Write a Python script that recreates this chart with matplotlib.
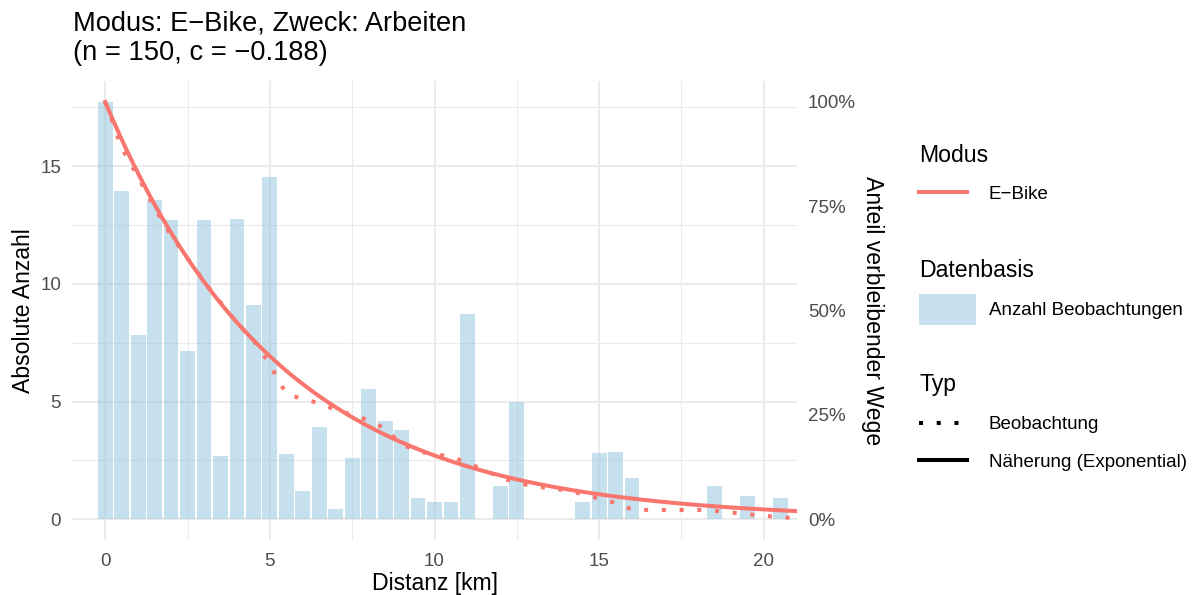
import numpy as np
import matplotlib
matplotlib.use("Agg")
import matplotlib.pyplot as plt
from matplotlib.lines import Line2D
from matplotlib.patches import Patch

plt.rcParams['font.family'] = ['Liberation Sans', 'DejaVu Sans']

# Balken: Anzahl Beobachtungen je 0,5-km-Klasse (gewichtet)
bin_km = [0, 0.5, 1, 1.5, 2, 2.5, 3, 3.5, 4, 4.5, 5, 5.5, 6, 6.5, 7, 7.5, 8,
          8.5, 9, 9.5, 10, 10.5, 11, 12, 12.5, 14.5, 15, 15.5, 16, 18.5, 19.5, 20.5]
counts = [17.73, 13.95, 7.84, 13.57, 12.72, 7.16, 12.72, 2.70, 12.76, 9.11, 14.55,
          2.75, 1.18, 3.93, 0.45, 2.58, 5.54, 4.19, 3.81, 0.92, 0.75, 0.71, 8.73,
          1.39, 4.99, 0.71, 2.83, 2.87, 1.77, 1.43, 1.00, 0.88]

# Beobachteter Anteil verbleibender Wege
obs_km = [0, 0.5, 1, 1.5, 2, 2.5, 3, 3.5, 4, 4.5, 5, 5.5, 6, 6.5, 7, 7.5, 8, 8.5,
          9, 9.5, 10, 10.5, 11, 11.5, 12, 12.5, 13, 13.5, 14, 14.5, 15, 15.5, 16,
          16.5, 17, 17.5, 18, 18.5, 19, 19.5, 20, 20.5, 21]
obs_share = [1.00, 0.89, 0.82, 0.745, 0.68, 0.625, 0.57, 0.52, 0.47, 0.43, 0.37,
             0.30, 0.288, 0.278, 0.262, 0.25, 0.237, 0.217, 0.18, 0.162, 0.156,
             0.150, 0.135, 0.118, 0.10, 0.087, 0.079, 0.074, 0.069, 0.060, 0.049,
             0.039, 0.023, 0.022, 0.022, 0.022, 0.022, 0.020, 0.016, 0.012, 0.008,
             0.005, 0.002]

n_obs = 150
c_exp = -0.188

red = '#F8766D'
bar_col = '#9ecae1'
grid_col = '#EBEBEB'
tick_col = '#4D4D4D'

scale = max(counts)  # 100 % auf der rechten Achse
fit_x = np.linspace(0, 21, 300)
fit_y = np.exp(c_exp * fit_x)

fig = plt.figure(figsize=(11.95, 5.95), dpi=100)
ax = fig.add_axes([0.0605, 0.0924, 0.6062, 0.7713])

ax.bar(bin_km, counts, width=0.45, color=bar_col, alpha=0.58, linewidth=0, zorder=2)
ax.plot(obs_km, np.array(obs_share) * scale, color=red, lw=2.9,
        linestyle=(0, (1, 3.4)), zorder=3)
ax.plot(fit_x, fit_y * scale, color=red, lw=2.9, zorder=4)

ax.set_xlim(-1, 21)
ax.set_ylim(-0.05 * scale, 1.05 * scale)
ax.set_xticks([0, 5, 10, 15, 20])
ax.set_xticks([2.5, 7.5, 12.5, 17.5], minor=True)
ax.set_yticks([0, 5, 10, 15])
ax.set_yticks([2.5, 7.5, 12.5, 17.5], minor=True)
ax.grid(True, which='major', color=grid_col, lw=1.5, zorder=0)
ax.grid(True, which='minor', color=grid_col, lw=0.8, zorder=0)
ax.set_axisbelow(True)
for s in ax.spines.values():
    s.set_visible(False)
ax.tick_params(which='both', length=0, labelsize=13.5, labelcolor=tick_col)
ax.tick_params(axis='x', pad=9)
ax.tick_params(axis='y', pad=8)
ax.set_xlabel('Distanz [km]', fontsize=16.6, labelpad=2)
ax.set_ylabel('Absolute Anzahl', fontsize=16.6, labelpad=4)

ax2 = ax.twinx()
ax2.set_ylim(-5, 105)
ax2.set_yticks([0, 25, 50, 75, 100])
ax2.set_yticklabels(['0%', '25%', '50%', '75%', '100%'])
for s in ax2.spines.values():
    s.set_visible(False)
ax2.tick_params(length=0, labelsize=13.5, labelcolor=tick_col, pad=8)
ax2.set_ylabel('Anteil verbleibender Wege', fontsize=16.6, rotation=-90,
               labelpad=20)

fig.text(73 / 1195, 1 - 10 / 595,
         f'Modus: E\u2212Bike, Zweck: Arbeiten\n(n = {n_obs}, c = \u2212{abs(c_exp):.3f})',
         fontsize=19.6, ha='left', va='top', linespacing=1.2)

leg_kw = dict(loc='upper left', frameon=False, fontsize=13.5, title_fontsize=16.6,
              alignment='left', borderpad=0, borderaxespad=0)
fig.legend(handles=[Line2D([], [], color=red, lw=2.9)], labels=['E\u2212Bike'],
           title='Modus', handlelength=2.56, handletextpad=1.16, labelspacing=1.0,
           bbox_to_anchor=(919 / 1195, 1 - 144 / 595), **leg_kw)
fig.legend(handles=[Patch(facecolor=bar_col, alpha=0.58, linewidth=0)],
           labels=['Anzahl Beobachtungen'], title='Datenbasis',
           handlelength=3.04, handletextpad=0.7, handleheight=2.18,
           labelspacing=0.62,
           bbox_to_anchor=(919 / 1195, 1 - 259 / 595), **leg_kw)
fig.legend(handles=[Line2D([], [], color='black', lw=2.9, linestyle=(0, (1, 3.4))),
                    Line2D([], [], color='black', lw=2.9)],
           labels=['Beobachtung', 'N\u00e4herung (Exponential)'], title='Typ',
           handlelength=2.56, handletextpad=1.16, labelspacing=1.08,
           bbox_to_anchor=(919 / 1195, 1 - 373 / 595), **leg_kw)

fig.savefig('out.png', dpi=100)
